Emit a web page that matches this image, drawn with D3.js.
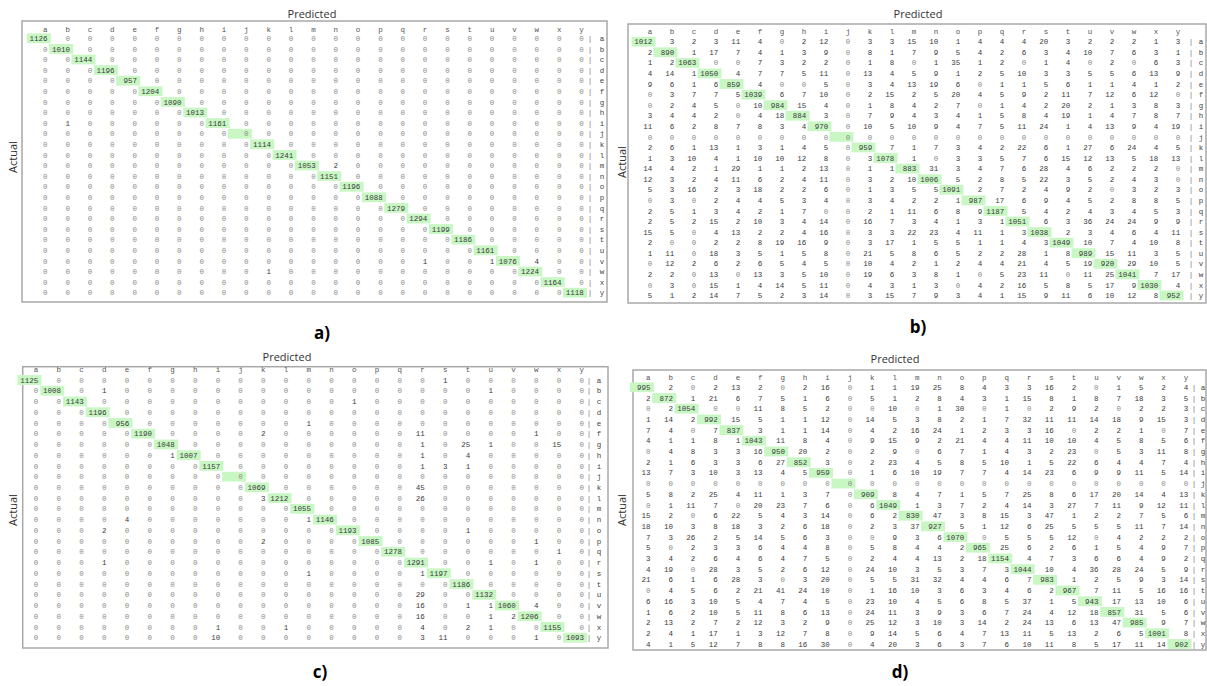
<!DOCTYPE html>
<html><head><meta charset="utf-8">
<script src="https://cdn.jsdelivr.net/npm/d3@7"></script>
<style>body{margin:0;background:#fff;}svg{display:block;}</style>
</head><body>
<svg id="chart" width="1207" height="686"></svg>
<script>
const labels = ["a","b","c","d","e","f","g","h","i","j","k","l","m","n","o","p","q","r","s","t","u","v","w","x","y"];
const panelTags = ["a)","b)","c)","d)"];

const matrixA = [
[1126,0,0,0,0,0,0,0,0,0,0,0,0,0,0,0,0,0,0,0,0,0,0,0,0],
[0,1010,0,0,0,0,0,0,0,0,0,0,0,0,0,0,0,0,0,0,0,0,0,0,0],
[0,0,1144,0,0,0,0,0,0,0,0,0,0,0,0,0,0,0,0,0,0,0,0,0,0],
[0,0,0,1196,0,0,0,0,0,0,0,0,0,0,0,0,0,0,0,0,0,0,0,0,0],
[0,0,0,0,957,0,0,0,0,0,0,0,0,0,0,0,0,0,0,0,0,0,0,0,0],
[0,0,0,0,0,1204,0,0,0,0,0,0,0,0,0,0,0,0,0,0,0,0,0,0,0],
[0,0,0,0,0,0,1090,0,0,0,0,0,0,0,0,0,0,0,0,0,0,0,0,0,0],
[0,0,0,0,0,0,0,1013,0,0,0,0,0,0,0,0,0,0,0,0,0,0,0,0,0],
[0,1,0,0,0,0,0,0,1161,0,0,0,0,0,0,0,0,0,0,0,0,0,0,0,0],
[0,0,0,0,0,0,0,0,0,0,0,0,0,0,0,0,0,0,0,0,0,0,0,0,0],
[0,0,0,0,0,0,0,0,0,0,1114,0,0,0,0,0,0,0,0,0,0,0,0,0,0],
[0,0,0,0,0,0,0,0,0,0,0,1241,0,0,0,0,0,0,0,0,0,0,0,0,0],
[0,0,0,0,0,0,0,0,0,0,0,0,1053,2,0,0,0,0,0,0,0,0,0,0,0],
[0,0,0,0,0,0,0,0,0,0,0,0,0,1151,0,0,0,0,0,0,0,0,0,0,0],
[0,0,0,0,0,0,0,0,0,0,0,0,0,0,1196,0,0,0,0,0,0,0,0,0,0],
[0,0,0,0,0,0,0,0,0,0,0,0,0,0,0,1088,0,0,0,0,0,0,0,0,0],
[0,0,0,0,0,0,0,0,0,0,0,0,0,0,0,0,1279,0,0,0,0,0,0,0,0],
[0,0,0,0,0,0,0,0,0,0,0,0,0,0,0,0,0,1294,0,0,0,0,0,0,0],
[0,0,0,0,0,0,0,0,0,0,0,0,0,0,0,0,0,0,1199,0,0,0,0,0,0],
[0,0,0,0,0,0,0,0,0,0,0,0,0,0,0,0,0,0,0,1186,0,0,0,0,0],
[0,0,0,0,0,0,0,0,0,0,0,0,0,0,0,0,0,0,0,0,1161,0,0,0,0],
[0,0,0,0,0,0,0,0,0,0,0,0,0,0,0,0,0,1,0,0,1,1076,4,0,0],
[0,0,0,0,0,0,0,0,0,0,1,0,0,0,0,0,0,0,0,0,0,0,1224,0,0],
[0,0,0,0,0,0,0,0,0,0,0,0,0,0,0,0,0,0,0,0,0,0,0,1164,0],
[0,0,0,0,0,0,0,0,0,0,0,0,0,0,0,0,0,0,0,0,0,0,0,0,1118]
];

const matrixB = [
[1012,3,2,3,11,4,0,2,12,0,3,3,15,10,1,4,4,4,20,3,2,2,2,1,3],
[2,890,1,17,7,4,1,3,9,0,8,1,7,9,5,4,2,6,3,4,10,7,6,3,1],
[1,2,1063,0,0,7,3,2,2,0,1,8,0,1,35,1,2,0,1,4,0,2,0,6,3],
[4,14,1,1050,4,7,7,5,11,0,13,4,5,9,1,2,5,10,3,3,5,5,6,13,9],
[9,6,1,6,859,4,0,0,5,0,3,4,13,19,6,0,1,1,5,6,1,1,4,1,2],
[0,3,7,7,5,1039,6,7,10,0,2,15,2,5,20,4,5,9,2,11,7,12,6,12,0],
[0,2,4,5,0,10,984,15,4,0,1,8,4,2,7,0,1,4,2,20,2,1,3,8,3],
[3,4,4,2,0,4,18,884,3,0,7,9,4,3,4,1,5,8,4,19,1,4,7,8,7],
[11,6,2,8,7,8,3,4,970,0,10,5,10,9,4,7,5,11,24,1,4,13,9,4,19],
[0,0,0,0,0,0,0,0,0,0,0,0,0,0,0,0,0,0,0,0,0,0,0,0,0],
[2,6,1,13,1,3,1,4,5,0,959,7,1,7,3,4,2,22,6,1,27,6,24,4,5],
[1,3,10,4,1,10,10,12,8,0,3,1078,1,0,3,3,5,7,6,15,12,13,5,18,13],
[14,4,2,1,29,1,1,2,13,0,1,1,883,31,3,4,7,6,28,4,6,2,2,2,0],
[12,3,2,4,11,6,2,4,11,0,3,2,10,1006,5,2,8,5,22,3,5,2,4,3,0],
[5,3,16,2,3,18,2,2,6,0,1,3,5,5,1091,2,7,2,4,9,2,0,3,2,3],
[0,3,0,2,4,4,5,3,4,0,3,4,2,2,1,987,17,6,9,4,5,2,8,8,5],
[2,5,1,3,4,2,1,7,0,0,2,1,11,6,8,9,1187,5,4,2,4,3,4,5,3],
[2,5,2,15,2,10,3,4,14,0,16,7,3,4,1,3,1,1051,6,3,36,24,24,9,9],
[15,5,0,4,13,2,2,4,16,0,3,3,22,23,4,11,1,3,1038,2,3,4,6,4,11],
[2,0,0,2,2,8,19,16,9,0,3,17,1,5,5,1,1,4,3,1049,10,7,4,10,8],
[1,11,0,18,3,5,1,5,8,0,21,5,8,6,5,2,2,28,1,8,989,15,11,3,5],
[0,12,2,6,2,6,5,4,5,0,10,4,2,1,2,4,4,21,4,5,19,920,29,10,5],
[2,2,0,13,0,13,3,5,10,0,19,6,3,8,1,0,5,23,11,0,11,25,1041,7,17],
[0,3,0,15,1,4,14,5,11,0,4,3,1,3,0,4,2,16,5,8,5,17,9,1030,4],
[5,1,2,14,7,5,2,3,14,0,3,15,7,9,3,4,1,15,9,11,6,10,12,8,952]
];

const matrixC = [
[1125,0,0,0,0,0,0,0,0,0,0,0,0,0,0,0,0,0,1,0,0,0,0,0,0],
[0,1008,0,1,0,0,0,0,0,0,0,0,0,0,0,0,0,0,0,0,1,0,0,0,0],
[0,0,1143,0,0,0,0,0,0,0,0,0,0,0,1,0,0,0,0,0,0,0,0,0,0],
[0,0,0,1196,0,0,0,0,0,0,0,0,0,0,0,0,0,0,0,0,0,0,0,0,0],
[0,0,0,0,956,0,0,0,0,0,0,0,1,0,0,0,0,0,0,0,0,0,0,0,0],
[0,0,0,0,0,1190,0,0,0,0,2,0,0,0,0,0,0,11,0,0,0,0,1,0,0],
[0,0,0,0,0,0,1048,0,0,0,0,0,0,0,0,0,0,1,0,25,1,0,0,15,0],
[0,0,0,0,0,0,1,1007,0,0,0,0,0,0,0,0,0,1,0,4,0,0,0,0,0],
[0,0,0,0,0,0,0,0,1157,0,0,0,0,0,0,0,0,1,3,1,0,0,0,0,0],
[0,0,0,0,0,0,0,0,0,0,0,0,0,0,0,0,0,0,0,0,0,0,0,0,0],
[0,0,0,0,0,0,0,0,0,0,1069,0,0,0,0,0,0,45,0,0,0,0,0,0,0],
[0,0,0,0,0,0,0,0,0,0,3,1212,0,0,0,0,0,26,0,0,0,0,0,0,0],
[0,0,0,0,0,0,0,0,0,0,0,0,1055,0,0,0,0,0,0,0,0,0,0,0,0],
[0,0,0,0,4,0,0,0,0,0,0,0,1,1146,0,0,0,0,0,0,0,0,0,0,0],
[0,0,0,2,0,0,0,0,0,0,0,0,0,0,1193,0,0,0,0,1,0,0,0,0,0],
[0,0,0,0,0,0,0,0,0,0,2,0,0,0,0,1085,0,0,0,0,0,0,1,0,0],
[0,0,0,0,0,0,0,0,0,0,0,0,0,0,0,0,1278,0,0,0,0,0,0,1,0],
[0,0,0,1,0,0,0,0,0,0,0,0,0,0,0,0,0,1291,0,0,1,0,1,0,0],
[0,0,0,0,0,0,0,0,0,0,0,0,1,0,0,0,0,1,1197,0,0,0,0,0,0],
[0,0,0,0,0,0,0,0,0,0,0,0,0,0,0,0,0,0,0,1186,0,0,0,0,0],
[0,0,0,0,0,0,0,0,0,0,0,0,0,0,0,0,0,29,0,0,1132,0,0,0,0],
[0,0,0,0,0,0,0,0,0,0,0,0,0,0,0,0,0,16,0,1,1,1060,4,0,0],
[0,0,0,0,0,0,0,0,0,0,0,0,0,0,0,0,0,16,0,0,1,2,1206,0,0],
[0,0,0,0,0,0,0,0,1,0,0,1,0,0,0,0,0,4,0,2,1,0,0,1155,0],
[0,0,0,0,0,0,0,0,10,0,0,0,0,0,0,0,0,3,11,0,0,0,1,0,1093]
];

const matrixD = [
[995,2,0,2,13,2,0,2,16,0,1,1,19,25,8,4,3,3,16,2,0,1,5,2,4],
[2,872,1,21,6,7,5,1,6,0,5,1,2,8,4,3,1,15,8,1,8,7,18,3,5],
[0,2,1054,0,0,11,8,5,2,0,0,10,0,1,30,0,1,0,2,9,2,0,2,2,3],
[1,14,2,992,15,5,1,1,12,0,14,5,3,8,2,1,7,32,11,11,14,18,9,15,3],
[7,4,0,7,837,3,1,1,14,0,4,2,16,24,1,2,3,3,16,0,2,2,1,0,7],
[4,1,1,8,1,1043,11,8,4,0,9,15,9,2,21,4,4,11,10,10,4,5,8,5,6],
[0,4,8,3,3,16,950,20,2,0,2,9,0,6,7,1,4,3,2,23,0,5,3,11,8],
[2,1,6,3,3,6,27,852,3,0,2,23,4,5,8,5,10,1,5,22,6,4,4,7,4],
[13,7,3,10,3,13,4,5,959,0,1,6,10,19,7,7,4,14,23,6,9,9,11,5,14],
[0,0,0,0,0,0,0,0,0,0,0,0,0,0,0,0,0,0,0,0,0,0,0,0,0],
[5,8,2,25,4,11,1,3,7,0,909,8,4,7,1,5,7,25,8,6,17,20,14,4,13],
[0,1,11,7,0,20,23,7,6,0,6,1049,1,3,7,2,4,14,3,27,7,11,9,12,11],
[15,2,0,6,22,5,4,3,14,0,6,2,830,47,3,8,15,3,47,1,2,2,7,5,6],
[18,10,3,8,18,3,2,6,18,0,2,3,37,927,5,1,12,6,25,5,5,5,11,7,14],
[7,3,26,2,5,14,5,6,3,0,0,9,3,6,1070,0,5,5,5,12,0,4,2,2,2],
[5,0,2,3,3,6,4,4,8,0,5,8,4,4,2,965,25,6,2,6,1,5,4,9,7],
[3,4,2,6,4,6,4,7,5,0,2,4,4,13,2,18,1154,4,7,3,6,6,4,9,2],
[4,19,0,28,3,5,2,6,12,0,24,10,3,5,3,7,3,1044,10,4,36,28,24,5,9],
[21,6,1,6,28,3,0,3,20,0,5,5,31,32,4,4,6,7,983,1,2,5,9,3,14],
[0,4,5,6,2,21,41,24,10,0,1,16,10,3,6,3,4,6,2,967,7,11,5,16,16],
[6,16,3,10,5,4,7,4,5,0,23,10,4,5,6,8,5,37,1,5,943,17,13,10,6],
[1,6,2,10,5,11,8,6,13,0,24,11,3,9,3,6,7,24,4,12,18,857,31,5,6],
[2,13,2,7,2,12,3,2,9,0,25,12,3,10,3,14,2,24,13,6,13,47,985,9,7],
[2,4,1,17,1,3,12,7,8,0,9,14,5,6,4,7,13,11,5,13,2,6,5,1001,8],
[4,1,5,12,7,8,8,16,30,0,4,20,3,6,3,7,6,10,11,8,5,17,11,14,902]
];

const matrices = [matrixA, matrixB, matrixC, matrixD];

// layout of each panel (positions only)
const layouts = [
  {box:[22,21,607,302], colX:[45.3,581.5], rowY:[38.3,292.7], headY:29, barX:590, rowLabX:602, title:[312,14], actual:[13,157], tag:[322,333]},
  {box:[628,24,1206,303], colX:[650,1178], rowY:[41.7,295.5], headY:31.5, barX:1191, rowLabX:1201, title:[918,14], actual:[622,162], tag:[918,327]},
  {box:[22.7,366.7,608,648], colX:[36,581.7], rowY:[380,637.7], headY:369.5, barX:589, rowLabX:599, title:[287,357], actual:[13,510], tag:[320,672]},
  {box:[633,370,1206,650], colX:[648.3,1186], rowY:[387.3,644], headY:377.5, barX:1194, rowLabX:1203, title:[895,359], actual:[622,510], tag:[900,672]}
];

const svg = d3.select("#chart");
const monoFont = "'Liberation Mono', 'DejaVu Sans Mono', monospace";
const sansFont = "'Open Sans', 'Noto Sans', sans-serif";
const charW = 4.5;

matrices.forEach((mat, p) => {
  const L = layouts[p];
  const g = svg.append("g");
  const x = d3.scalePoint().domain(labels).range(L.colX);
  const y = d3.scalePoint().domain(labels).range(L.rowY);

  g.append("rect")
    .attr("x", L.box[0]).attr("y", L.box[1])
    .attr("width", L.box[2] - L.box[0]).attr("height", L.box[3] - L.box[1])
    .attr("fill", "#fff").attr("stroke", "#a8a8a8").attr("stroke-width", 1.5);

  // diagonal highlight
  g.selectAll("rect.hl").data(labels).join("rect").attr("class", "hl")
    .attr("x", d => x(d) - 18.5).attr("y", d => y(d) - 4.9)
    .attr("width", 24).attr("height", 9.8)
    .attr("fill", "#c8f7c4");

  // column headers
  g.selectAll("text.col").data(labels).join("text").attr("class", "col")
    .attr("x", d => x(d)).attr("y", L.headY).attr("dy", "0.35em")
    .attr("text-anchor", "middle").attr("font-family", monoFont)
    .attr("font-size", 7.5).attr("fill", "#555").text(d => d);

  // cells
  const cells = [];
  mat.forEach((row, i) => row.forEach((v, j) => cells.push({r: labels[i], c: labels[j], v})));
  g.selectAll("text.cell").data(cells).join("text").attr("class", "cell")
    .attr("x", d => x(d.c) + charW / 2).attr("y", d => y(d.r)).attr("dy", "0.35em")
    .attr("text-anchor", "end").attr("font-family", monoFont).attr("font-size", 7.5)
    .attr("fill", d => d.v === 0 ? "#8a8a8a" : "#3a3a3a").text(d => d.v);

  // row separators and labels
  g.selectAll("text.bar").data(labels).join("text").attr("class", "bar")
    .attr("x", L.barX).attr("y", d => y(d)).attr("dy", "0.35em")
    .attr("text-anchor", "middle").attr("font-family", monoFont)
    .attr("font-size", 7.5).attr("fill", "#777").text("|");
  g.selectAll("text.rl").data(labels).join("text").attr("class", "rl")
    .attr("x", L.rowLabX).attr("y", d => y(d)).attr("dy", "0.35em")
    .attr("text-anchor", "middle").attr("font-family", monoFont)
    .attr("font-size", 7.5).attr("fill", "#444").text(d => d);

  // titles
  g.append("text").attr("x", L.title[0]).attr("y", L.title[1]).attr("dy", "0.35em")
    .attr("text-anchor", "middle").attr("font-family", sansFont).attr("font-size", 11)
    .attr("fill", "#333").text("Predicted");
  g.append("text").attr("transform", `translate(${L.actual[0]},${L.actual[1]}) rotate(-90)`)
    .attr("dy", "0.35em").attr("text-anchor", "middle").attr("font-family", sansFont)
    .attr("font-size", 11).attr("fill", "#333").text("Actual");
  g.append("text").attr("x", L.tag[0]).attr("y", L.tag[1]).attr("dy", "0.35em")
    .attr("text-anchor", "middle").attr("font-family", sansFont).attr("font-size", 17)
    .attr("font-weight", "bold").attr("fill", "#000").text(panelTags[p]);
});
</script>
</body></html>
